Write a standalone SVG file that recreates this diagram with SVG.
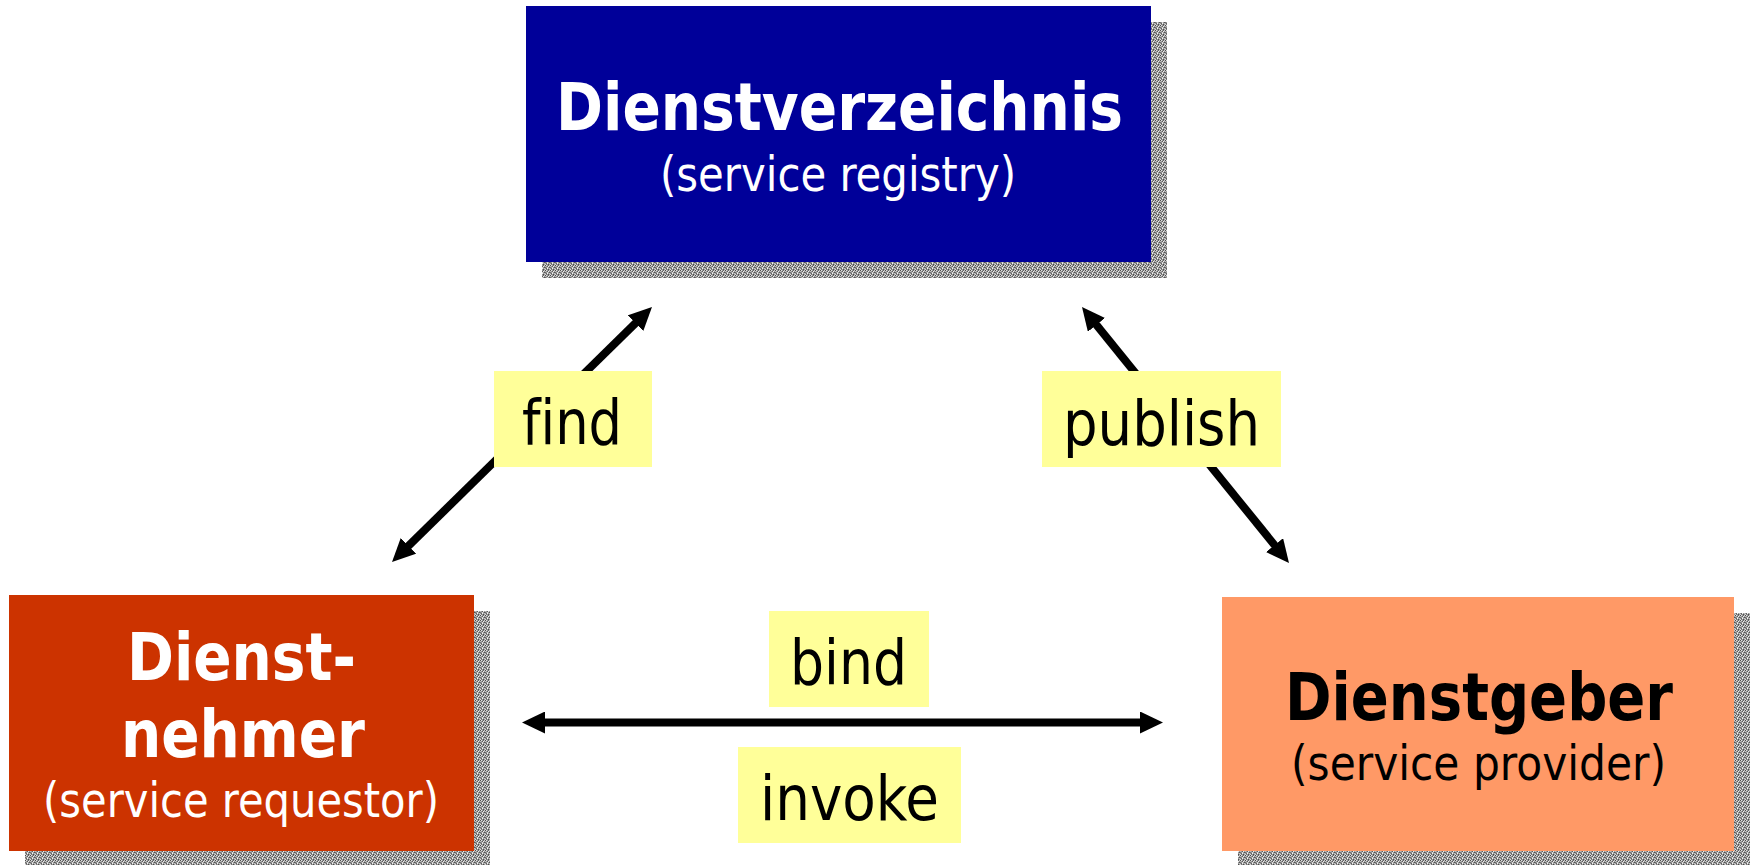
<svg xmlns="http://www.w3.org/2000/svg" width="1755" height="865" viewBox="0 0 1755 865">
  <defs>
    <pattern id="dither" x="0" y="0" width="5" height="5" patternUnits="userSpaceOnUse">
      <rect width="5" height="5" fill="#9a9a9a"/>
      <rect x="0" y="0" width="1" height="1" fill="#4a4a4a"/>
      <rect x="1" y="0" width="1" height="1" fill="#e0e0e0"/>
      <rect x="3" y="0" width="1" height="1" fill="#6a6a6a"/>
      <rect x="4" y="0" width="1" height="1" fill="#cfcfcf"/>
      <rect x="2" y="1" width="1" height="1" fill="#5c5c5c"/>
      <rect x="3" y="1" width="1" height="1" fill="#eeeeee"/>
      <rect x="0" y="1" width="1" height="1" fill="#bcbcbc"/>
      <rect x="4" y="2" width="1" height="1" fill="#555555"/>
      <rect x="2" y="2" width="1" height="1" fill="#d8d8d8"/>
      <rect x="0" y="2" width="1" height="1" fill="#707070"/>
      <rect x="1" y="3" width="1" height="1" fill="#606060"/>
      <rect x="2" y="3" width="1" height="1" fill="#f2f2f2"/>
      <rect x="4" y="3" width="1" height="1" fill="#c4c4c4"/>
      <rect x="3" y="4" width="1" height="1" fill="#4f4f4f"/>
      <rect x="0" y="4" width="1" height="1" fill="#dadada"/>
      <rect x="1" y="4" width="1" height="1" fill="#7a7a7a"/>
    </pattern>
    <marker id="head" viewBox="0 0 23 22" refX="6" refY="11" markerWidth="23" markerHeight="22" markerUnits="userSpaceOnUse" orient="auto-start-reverse">
      <path d="M0,0 L23,11 L0,22 z" fill="#000"/>
    </marker>
  </defs>
  <style>
    .shadow { fill: url(#dither); shape-rendering: crispEdges; }
    .title { font-family: "DejaVu Sans Condensed", "DejaVu Sans", sans-serif; font-weight: bold; font-size: 65px; }
    .sub { font-family: "DejaVu Sans Condensed", "DejaVu Sans", sans-serif; font-size: 48px; }
    .lbl { font-family: "DejaVu Sans Condensed", "DejaVu Sans", sans-serif; font-size: 62px; fill: #000; font-variant-ligatures: none; }
    text { font-variant-ligatures: none; }
    .tag { fill: #ffff99; }
    .conn { stroke: #000; stroke-width: 8; fill: none; marker-start: url(#head); marker-end: url(#head); }
  </style>
  <rect width="1755" height="865" fill="#ffffff"/>

  <g id="connectors">
    <line class="conn" x1="404.14" y1="550.10" x2="639.86" y2="318.90"/>
    <line class="conn" x1="1278.31" y1="549.78" x2="1092.69" y2="320.22"/>
    <line class="conn" x1="539" y1="722.5" x2="1146" y2="722.5"/>
    <g id="label-find">
      <rect class="tag" x="494" y="371" width="158" height="96"/>
      <text class="lbl" x="522" y="444" textLength="100" lengthAdjust="spacingAndGlyphs">find</text>
    </g>
    <g id="label-publish">
      <rect class="tag" x="1042" y="371" width="239" height="96"/>
      <text class="lbl" x="1063" y="445" textLength="197" lengthAdjust="spacingAndGlyphs">publish</text>
    </g>
    <g id="label-bind">
      <rect class="tag" x="769" y="611" width="160" height="96"/>
      <text class="lbl" x="790" y="684" textLength="117" lengthAdjust="spacingAndGlyphs">bind</text>
    </g>
    <g id="label-invoke">
      <rect class="tag" x="738" y="747" width="223" height="96"/>
      <text class="lbl" x="760" y="820" textLength="179" lengthAdjust="spacingAndGlyphs">invoke</text>
    </g>
  </g>

  <g id="registry">
    <rect class="shadow" x="542" y="22" width="625" height="256"/>
    <rect x="526" y="6" width="625" height="256" fill="#000099"/>
    <text class="title" x="556" y="130" fill="#ffffff" textLength="567" lengthAdjust="spacingAndGlyphs">Dienstverzeichnis</text>
    <text class="sub" x="660" y="191" fill="#ffffff" textLength="356" lengthAdjust="spacingAndGlyphs">(service registry)</text>
  </g>

  <g id="requestor">
    <rect class="shadow" x="25" y="611" width="465" height="256"/>
    <rect x="9" y="595" width="465" height="256" fill="#cc3300"/>
    <text class="title" x="127" y="680" fill="#ffffff" textLength="229" lengthAdjust="spacingAndGlyphs">Dienst-</text>
    <text class="title" x="121" y="757" fill="#ffffff" textLength="244" lengthAdjust="spacingAndGlyphs">nehmer</text>
    <text class="sub" x="43" y="817" fill="#ffffff" textLength="396" lengthAdjust="spacingAndGlyphs">(service requestor)</text>
  </g>

  <g id="provider">
    <rect class="shadow" x="1238" y="613" width="512" height="256"/>
    <rect x="1222" y="597" width="512" height="254" fill="#ff9966"/>
    <text class="title" x="1285" y="720" fill="#000000" textLength="388" lengthAdjust="spacingAndGlyphs">Dienstgeber</text>
    <text class="sub" x="1291" y="780" fill="#000000" textLength="375" lengthAdjust="spacingAndGlyphs">(service provider)</text>
  </g>
</svg>
